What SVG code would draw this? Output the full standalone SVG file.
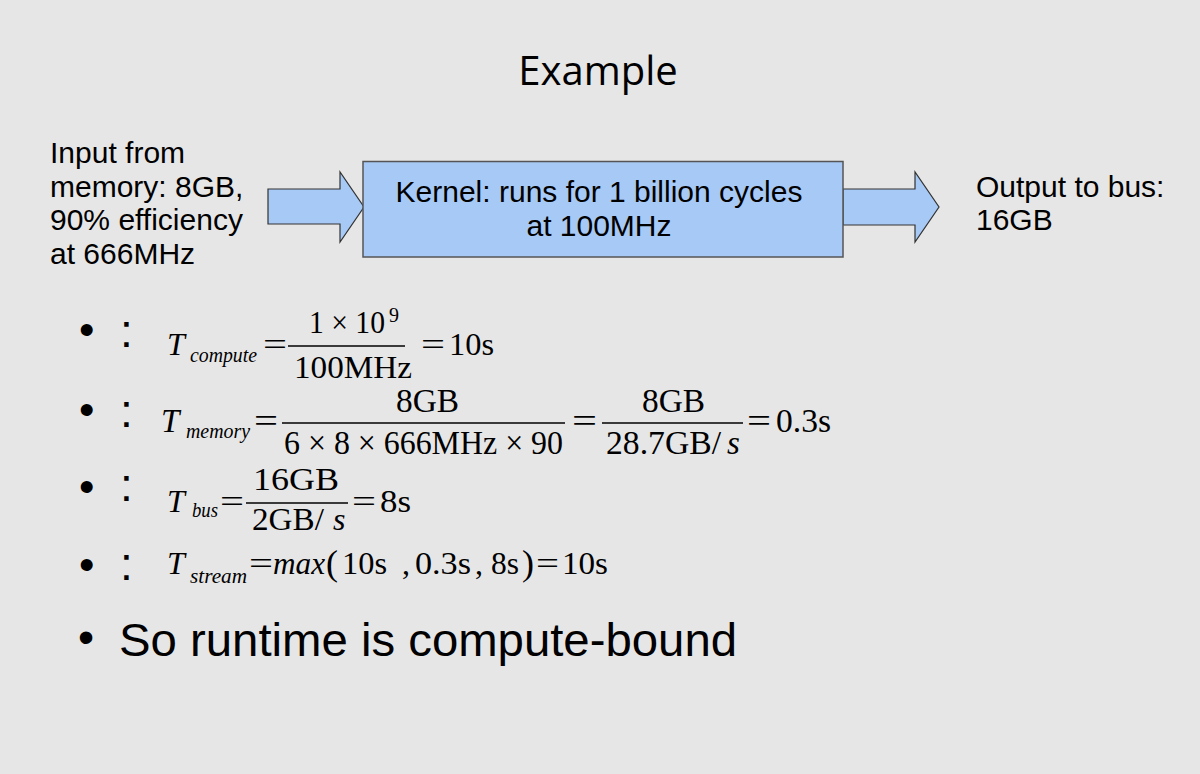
<svg xmlns="http://www.w3.org/2000/svg" width="1200" height="774" viewBox="0 0 1200 774">
<style>
.sans{font-family:"Liberation Sans",Arial,sans-serif;fill:#000}
.lbl{font-size:30px}
.m{font-family:"Liberation Serif","Times New Roman",serif;fill:#000}
.i{font-style:italic}
.bar{stroke:#000;stroke-width:1.6}
.blk{fill:#a6c9f6;stroke:#333;stroke-width:1.2}
.bul{font-size:44px}
.col{font-size:46px}
</style>
<rect width="1200" height="774" fill="#e6e6e6"/>
<text id="title" x="598" y="85" text-anchor="middle" style="font-family:'Open Sans','DejaVu Sans',sans-serif;font-size:40px">Example</text>

<g id="input">
<text class="sans lbl" x="50" y="163">Input from</text>
<text class="sans lbl" x="50" y="196.5">memory: 8GB,</text>
<text class="sans lbl" x="50" y="230">90% efficiency</text>
<text class="sans lbl" x="50" y="263.5">at 666MHz</text>
</g>

<g id="connectors">
<polygon class="blk" points="268,189 340,189 340,172 364,207 340,242 340,224 268,224"/>
<polygon class="blk" points="843,189 915,189 915,172 939,207 915,242 915,225 843,225"/>
</g>

<g id="kernel">
<rect x="363" y="161.5" width="480" height="95.5" fill="#a6c9f6" stroke="#555" stroke-width="1.5"/>
<text class="sans lbl" x="599" y="202" text-anchor="middle">Kernel: runs for 1 billion cycles</text>
<text class="sans lbl" x="599" y="236" text-anchor="middle">at 100MHz</text>
</g>

<g id="output">
<text class="sans lbl" x="976" y="197">Output to bus:</text>
<text class="sans lbl" x="976" y="230">16GB</text>
</g>

<g id="bullets" class="sans">
<text class="bul" x="79" y="345">•</text>
<text class="bul" x="79" y="425">•</text>
<text class="bul" x="79" y="502">•</text>
<text class="bul" x="79" y="580">•</text>
<text class="col" x="120" y="347">:</text>
<text class="col" x="120" y="427">:</text>
<text class="col" x="120" y="501">:</text>
<text class="col" x="120" y="580">:</text>
</g>

<g id="f-compute" class="m">
<text class="i" x="167" y="355" font-size="32">T</text>
<text class="i" x="190" y="362" font-size="20" textLength="67" lengthAdjust="spacingAndGlyphs">compute</text>
<text x="263" y="355" font-size="32" textLength="24" lengthAdjust="spacingAndGlyphs">=</text>
<line class="bar" x1="288" y1="346" x2="405" y2="346"/>
<text x="309" y="333" font-size="32" textLength="76" lengthAdjust="spacingAndGlyphs">1 × 10</text>
<text x="389" y="322" font-size="20">9</text>
<text x="294" y="378" font-size="32" textLength="118" lengthAdjust="spacingAndGlyphs">100MHz</text>
<text x="421" y="355" font-size="32" textLength="24" lengthAdjust="spacingAndGlyphs">=</text>
<text x="449" y="355" font-size="32" textLength="45" lengthAdjust="spacingAndGlyphs">10s</text>
</g>

<g id="f-memory" class="m">
<text class="i" x="161" y="432" font-size="33">T</text>
<text class="i" x="186" y="438" font-size="20" textLength="64" lengthAdjust="spacingAndGlyphs">memory</text>
<text x="254" y="432" font-size="33" textLength="24" lengthAdjust="spacingAndGlyphs">=</text>
<line class="bar" x1="282" y1="423" x2="565" y2="423"/>
<text x="396" y="412" font-size="33" textLength="63" lengthAdjust="spacingAndGlyphs">8GB</text>
<text x="284" y="454" font-size="33" textLength="279" lengthAdjust="spacingAndGlyphs">6 × 8 × 666MHz × 90</text>
<text x="572" y="432" font-size="33" textLength="25" lengthAdjust="spacingAndGlyphs">=</text>
<line class="bar" x1="602" y1="423" x2="743" y2="423"/>
<text x="642" y="412" font-size="33" textLength="63" lengthAdjust="spacingAndGlyphs">8GB</text>
<text x="606" y="454" font-size="33" textLength="115" lengthAdjust="spacingAndGlyphs">28.7GB/</text>
<text class="i" x="727" y="454" font-size="33">s</text>
<text x="747" y="432" font-size="33" textLength="24" lengthAdjust="spacingAndGlyphs">=</text>
<text x="776" y="432" font-size="33" textLength="55" lengthAdjust="spacingAndGlyphs">0.3s</text>
</g>

<g id="f-bus" class="m">
<text class="i" x="167" y="512" font-size="32">T</text>
<text class="i" x="192" y="517" font-size="20" textLength="26" lengthAdjust="spacingAndGlyphs">bus</text>
<text x="220" y="512" font-size="32" textLength="24" lengthAdjust="spacingAndGlyphs">=</text>
<line class="bar" x1="246" y1="503" x2="348" y2="503"/>
<text x="253" y="490" font-size="32" textLength="86" lengthAdjust="spacingAndGlyphs">16GB</text>
<text x="252" y="530" font-size="32" textLength="72" lengthAdjust="spacingAndGlyphs">2GB/</text>
<text class="i" x="333" y="530" font-size="32">s</text>
<text x="352" y="512" font-size="32" textLength="24" lengthAdjust="spacingAndGlyphs">=</text>
<text x="380" y="512" font-size="32" textLength="31" lengthAdjust="spacingAndGlyphs">8s</text>
</g>

<g id="f-stream" class="m">
<text class="i" x="167" y="574" font-size="32">T</text>
<text class="i" x="190" y="583" font-size="20" textLength="57" lengthAdjust="spacingAndGlyphs">stream</text>
<text x="249" y="574" font-size="32" textLength="24" lengthAdjust="spacingAndGlyphs">=</text>
<text class="i" x="273" y="574" font-size="32" textLength="52" lengthAdjust="spacingAndGlyphs">max</text>
<text x="326" y="575" font-size="36">(</text>
<text x="342" y="574" font-size="32" textLength="45" lengthAdjust="spacingAndGlyphs">10s</text>
<text x="402" y="574" font-size="32">,</text>
<text x="415" y="574" font-size="32" textLength="56" lengthAdjust="spacingAndGlyphs">0.3s</text>
<text x="475" y="574" font-size="32">,</text>
<text x="491" y="574" font-size="32" textLength="28" lengthAdjust="spacingAndGlyphs">8s</text>
<text x="522" y="575" font-size="36">)</text>
<text x="536" y="574" font-size="32" textLength="23" lengthAdjust="spacingAndGlyphs">=</text>
<text x="562" y="574" font-size="32" textLength="46" lengthAdjust="spacingAndGlyphs">10s</text>
</g>

<g id="conclusion" class="sans">
<text x="78" y="653" font-size="46">•</text>
<text x="119" y="656" font-size="47" textLength="618" lengthAdjust="spacingAndGlyphs">So runtime is compute-bound</text>
</g>
</svg>
